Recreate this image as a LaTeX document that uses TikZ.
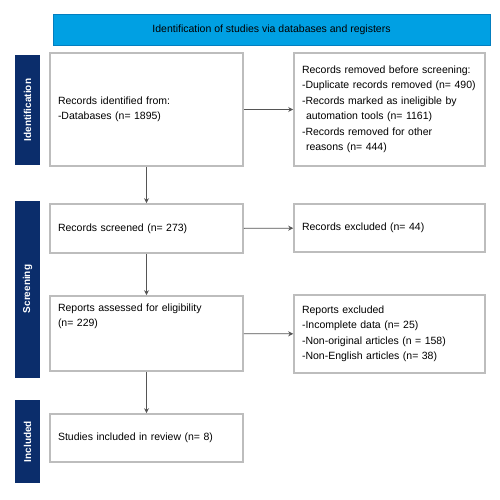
\documentclass[tikz,border=0pt]{standalone}
\usepackage{fontspec}
\setmainfont{Liberation Sans}
\usetikzlibrary{arrows.meta}
\definecolor{navy}{HTML}{0B2D6B}
\definecolor{headblue}{HTML}{00A0E3}
\definecolor{boxgray}{HTML}{BDBDBD}
\definecolor{pingray}{HTML}{555555}
\tikzset{
  pin/.style={-{Stealth[length=5pt,width=5pt]}, draw=pingray, line width=0.9pt},
  box/.style={draw=boxgray, line width=1.6pt, fill=white, inner xsep=8pt,
    align=left, font=\fontsize{10.5}{15.5}\selectfont},
  lbox/.style={box, minimum width=193pt, text width=177pt},
  rbox/.style={box, minimum width=191pt, text width=175pt},
  phase/.style={fill=navy, text=white, rotate=90, inner sep=0pt,
    minimum height=25pt, font=\fontsize{10}{12}\selectfont\bfseries}
}
\begin{document}
\begin{tikzpicture}[x=1pt, y=-1pt]
  \useasboundingbox[fill=white] (0,0) rectangle (500,500);
  % banner
  \node[fill=headblue, draw=headblue!70!navy, line width=0.8pt, minimum width=437pt,
    minimum height=31pt, font=\fontsize{10.5}{12}\selectfont, inner sep=0pt] (head) at (271.5,29.5)
    {Identification of studies via databases and registers};
  % phase bars
  \node[phase, minimum width=110pt] (ident) at (27.5,110) {Identification};
  \node[phase, minimum width=177pt] (screen) at (27.5,289) {Screening};
  \node[phase, minimum width=83pt] (incl) at (27.5,441.5) {Included};
  % left column
  \node[lbox, minimum height=113pt] (found) at (146.5,109.5)
    {Records identified from:\\-Databases (n= 1895)};
  \node[lbox, minimum height=49pt] (screened) at (146.5,228.5)
    {Records screened (n= 273)};
  \node[lbox, minimum height=75pt] (assessed) at (146.5,333.5)
    {\parbox[t][60pt][t]{177pt}{Reports assessed for eligibility\\(n= 229)}};
  \node[lbox, minimum height=48pt] (included) at (146.5,438)
    {Studies included in review (n= 8)};
  % right column
  \node[rbox, minimum height=113pt] (removed) at (389.5,109.5)
    {Records removed before screening:\\-Duplicate records removed (n= 490)\\-Records marked as ineligible by\\
     \hspace*{4pt}automation tools (n= 1161)\\-Records removed for other\\\hspace*{4pt}reasons (n= 444)};
  \node[rbox, minimum height=48pt] (excluded) at (389.5,228)
    {Records excluded (n= 44)};
  \node[rbox, minimum height=78pt] (rejected) at (389.5,334)
    {Reports excluded\\-Incomplete data (n= 25)\\-Non-original articles (n = 158)\\-Non-English articles (n= 38)};
  % flow
  \draw[pin] (found) -- (screened);
  \draw[pin] (screened) -- (assessed);
  \draw[pin] (assessed) -- (included);
  \draw[pin] (found) -- (removed);
  \draw[pin] (screened) -- (excluded);
  \draw[pin] (assessed) -- (rejected);
\end{tikzpicture}
\end{document}
